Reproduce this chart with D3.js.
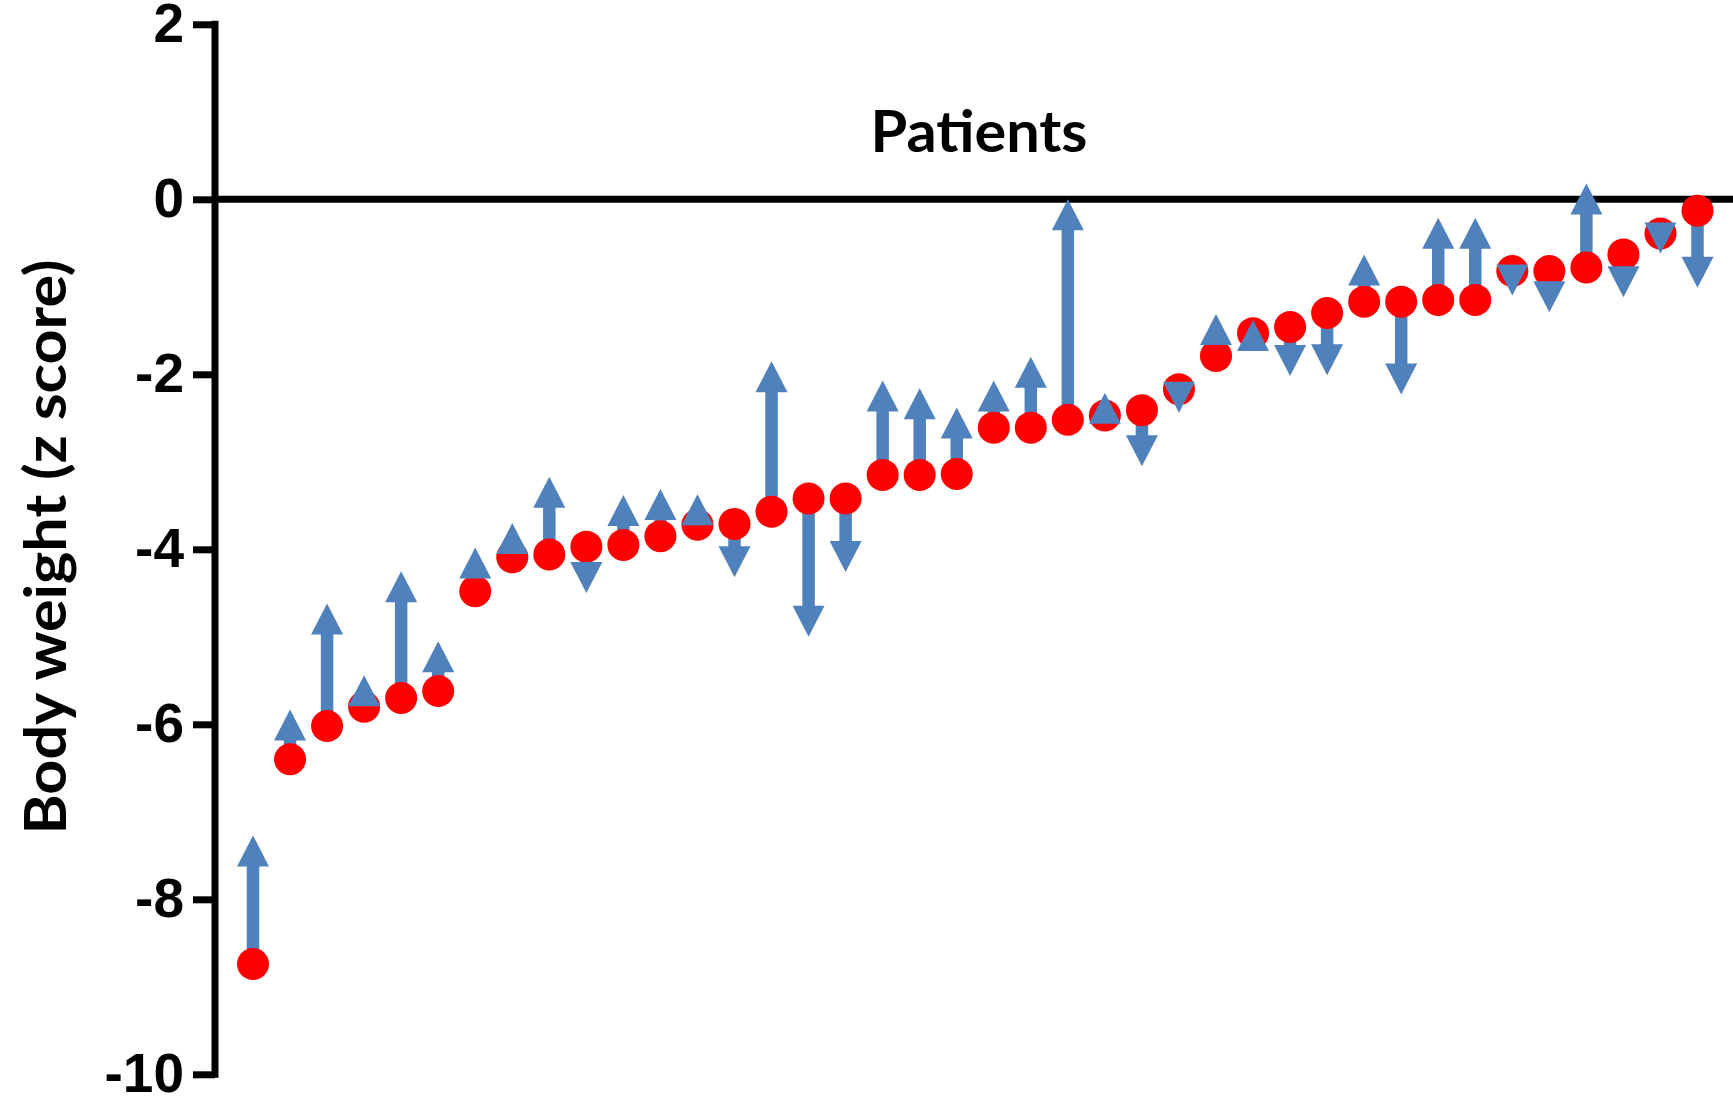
<!DOCTYPE html>
<html>
<head>
<meta charset="utf-8">
<script src="https://cdn.jsdelivr.net/npm/d3@7"></script>
<style>
  html, body { margin: 0; padding: 0; background: #fff; }
</style>
</head>
<body>
<div id="chart-container"></div>
<script>
const patients = d3.range(1, 41)
const baseline = [-8.74, -6.40, -6.02, -5.80, -5.70, -5.62, -4.48, -4.09, -4.06, -3.97,
  -3.95, -3.85, -3.72, -3.71, -3.57, -3.42, -3.42, -3.15, -3.15, -3.14,
  -2.61, -2.61, -2.52, -2.47, -2.41, -2.17, -1.79, -1.53, -1.46, -1.30,
  -1.17, -1.17, -1.15, -1.15, -0.82, -0.82, -0.78, -0.63, -0.39, -0.13]
const followUp = [-7.27, -5.83, -4.62, -5.44, -4.25, -5.05, -3.98, -3.70, -3.17, -4.50,
  -3.38, -3.31, -3.37, -4.32, -1.85, -5.00, -4.26, -2.07, -2.16, -2.38,
  -2.07, -1.80, 0.00, -2.21, -3.05, -2.44, -1.31, -1.38, -2.02, -2.01,
  -0.63, -2.23, -0.21, -0.21, -1.10, -1.29, 0.18, -1.12, -0.62, -1.01]
const yTicks = [2, 0, -2, -4, -6, -8, -10]
const yLabel = 'Body weight (z score)'
const groupLabel = 'Patients'

function draw () {
  const width = 1733
  const height = 1098
  const axisX = 215
  const blue = '#4f81bd'
  const red = '#ff0000'
  const headLen = 31
  const headHalf = 16
  const shaftW = 12.5
  const dotR = 16

  const data = patients.map((p, i) => ({ id: p, from: baseline[i], to: followUp[i] }))

  const svg = d3.select('#chart-container')
    .append('svg')
    .attr('width', width)
    .attr('height', height)

  const xScale = d3.scalePoint()
    .domain(patients)
    .range([253, 1697.5])

  const yScale = d3.scaleLinear()
    .domain([-10, 2])
    .range([1074.3, 24.3])

  // y axis
  const yAxis = d3.axisLeft(yScale)
    .tickValues(yTicks)
    .tickSize(22)
    .tickPadding(9)
    .tickFormat(d3.format('d'))

  const gy = svg.append('g')
    .attr('transform', 'translate(' + axisX + ',0)')
    .call(yAxis)
  gy.select('.domain')
    .attr('d', 'M0,' + (yScale(2) - 3.5) + 'V' + (yScale(-10) + 3.5))
    .attr('stroke', '#000')
    .attr('stroke-width', 7)
  gy.selectAll('.tick line')
    .attr('stroke', '#000')
    .attr('stroke-width', 7)
  gy.selectAll('.tick text')
    .attr('fill', '#000')
    .style('font-family', '"Liberation Sans", Arial, sans-serif')
    .style('font-weight', 'bold')
    .style('font-size', '55px')
    .text(d => d < 0 ? '-' + Math.abs(d) : d)

  // zero line
  svg.append('line')
    .attr('x1', axisX)
    .attr('x2', width)
    .attr('y1', yScale(0))
    .attr('y2', yScale(0))
    .attr('stroke', '#000')
    .attr('stroke-width', 7)

  // arrow shafts
  svg.append('g')
    .selectAll('line')
    .data(data.filter(d => Math.abs(yScale(d.to) - yScale(d.from)) > headLen))
    .enter()
    .append('line')
    .attr('x1', d => xScale(d.id))
    .attr('x2', d => xScale(d.id))
    .attr('y1', d => yScale(d.from))
    .attr('y2', d => yScale(d.to) + (d.to > d.from ? headLen - 1 : -headLen + 1))
    .attr('stroke', blue)
    .attr('stroke-width', shaftW)

  // dots
  svg.append('g')
    .selectAll('circle')
    .data(data)
    .enter()
    .append('circle')
    .attr('cx', d => xScale(d.id))
    .attr('cy', d => yScale(d.from))
    .attr('r', dotR)
    .attr('fill', red)

  // arrow heads
  svg.append('g')
    .selectAll('path')
    .data(data)
    .enter()
    .append('path')
    .attr('d', d => {
      const x = xScale(d.id)
      const tip = yScale(d.to)
      const base = d.to > d.from ? tip + headLen : tip - headLen
      return 'M' + x + ',' + tip + 'L' + (x - headHalf) + ',' + base + 'L' + (x + headHalf) + ',' + base + 'Z'
    })
    .attr('fill', blue)

  // labels
  svg.append('text')
    .attr('x', 979)
    .attr('y', 152)
    .attr('text-anchor', 'middle')
    .attr('textLength', 217)
    .attr('lengthAdjust', 'spacingAndGlyphs')
    .style('font-family', 'Lato, "Open Sans", sans-serif')
    .style('font-weight', 'bold')
    .style('font-size', '57px')
    .text(groupLabel)

  svg.append('text')
    .attr('transform', 'translate(66,547) rotate(-90)')
    .attr('text-anchor', 'middle')
    .attr('textLength', 575)
    .attr('lengthAdjust', 'spacingAndGlyphs')
    .style('font-family', 'Lato, "Open Sans", sans-serif')
    .style('font-weight', 'bold')
    .style('font-size', '57px')
    .text(yLabel)
}
draw()
</script>
</body>
</html>
